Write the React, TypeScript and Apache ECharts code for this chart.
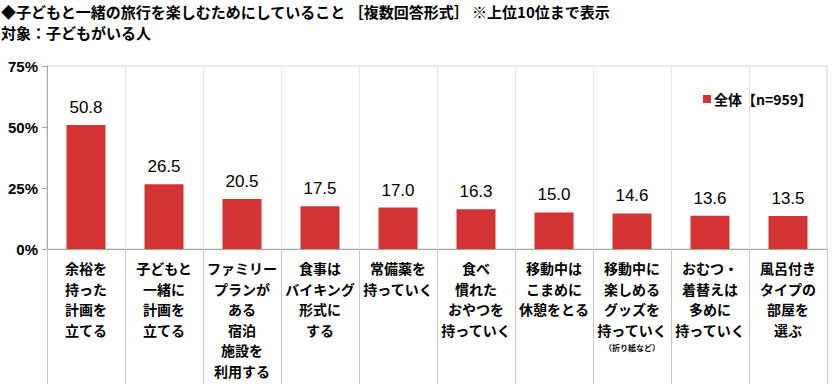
import React, { useEffect, useRef } from "react";
import * as echarts from "echarts";

const categories = [
  "余裕を\n持った\n計画を\n立てる",
  "子どもと\n一緒に\n計画を\n立てる",
  "ファミリー\nプランが\nある\n宿泊\n施設を\n利用する",
  "食事は\nバイキング\n形式に\nする",
  "常備薬を\n持っていく",
  "食べ\n慣れた\nおやつを\n持っていく",
  "移動中は\nこまめに\n休憩をとる",
  "移動中に\n楽しめる\nグッズを\n持っていく\n{s|（折り紙など）}",
  "おむつ・\n着替えは\n多めに\n持っていく",
  "風呂付き\nタイプの\n部屋を\n選ぶ",
];
const values = [50.8, 26.5, 20.5, 17.5, 17.0, 16.3, 15.0, 14.6, 13.6, 13.5];
const seriesName = "全体【n=959】";
const titleLine1 = "◆子どもと一緒の旅行を楽しむためにしていること ［複数回答形式］ ※上位10位まで表示";
const titleLine2 = "対象：子どもがいる人";

const JP = "'Noto Sans CJK JP', 'Noto Sans', sans-serif";
const NUM = "'Liberation Sans', Arial, sans-serif";

export default function App() {
  const ref = useRef<HTMLDivElement>(null);
  useEffect(() => {
    document.body.style.margin = "0";
    const chart = echarts.init(ref.current!, null, { renderer: "svg" });
    chart.setOption({
      animation: false,
      backgroundColor: "#ffffff",
      title: [
        {
          text: titleLine1,
          left: 1,
          top: 2,
          padding: 0,
          textStyle: { fontFamily: JP, fontSize: 15, fontWeight: "bold", color: "#000", lineHeight: 18 },
        },
        {
          text: titleLine2,
          left: 1,
          top: 23,
          padding: 0,
          textStyle: { fontFamily: JP, fontSize: 15, fontWeight: "bold", color: "#000", lineHeight: 18 },
        },
      ],
      legend: {
        show: true,
        left: 698,
        top: 87,
        itemWidth: 8,
        itemHeight: 8,
        itemGap: 4,
        icon: "rect",
        textStyle: { fontFamily: JP, fontSize: 14, fontWeight: "bold", color: "#000", padding: [0, 0, 0, -2] },
        data: [seriesName],
      },
      grid: {
        left: 47,
        right: 13,
        top: 66,
        bottom: 135,
        show: true,
        borderColor: "#d9d9d9",
        borderWidth: 1,
      },
      xAxis: {
        type: "category",
        data: categories,
        boundaryGap: true,
        axisLine: { show: true, lineStyle: { color: "#a6a6a6", width: 1 } },
        axisTick: { show: true, interval: 0, length: 135, lineStyle: { color: "#c8c8c8", width: 1 } },
        splitLine: { show: true, interval: 0, lineStyle: { color: "#e6e6e6", width: 1 } },
        axisLabel: {
          interval: 0,
          margin: 9,
          fontFamily: JP,
          fontSize: 14,
          fontWeight: "bold",
          color: "#000",
          lineHeight: 20.5,
          rich: {
            s: { fontFamily: JP, fontSize: 8, fontWeight: "bold", lineHeight: 14, color: "#000" },
          },
        },
      },
      yAxis: {
        type: "value",
        min: 0,
        max: 75,
        interval: 25,
        axisLine: { show: true, lineStyle: { color: "#a6a6a6", width: 1 } },
        axisTick: { show: true, length: 5, lineStyle: { color: "#a6a6a6" } },
        splitLine: { show: false },
        axisLabel: {
          formatter: "{value}%",
          margin: 9,
          fontFamily: NUM,
          fontSize: 15,
          fontWeight: "bold",
          color: "#000",
        },
      },
      series: [
        {
          name: seriesName,
          type: "bar",
          data: values,
          barWidth: "50%",
          itemStyle: { color: "#d43333" },
          label: {
            show: true,
            position: "top",
            distance: 9,
            formatter: (p: any) => Number(p.value).toFixed(1),
            fontFamily: NUM,
            fontSize: 17,
            color: "#000",
          },
        },
      ],
    });
    return () => chart.dispose();
  }, []);
  return <div ref={ref} style={{ width: 840, height: 384 }} />;
}
